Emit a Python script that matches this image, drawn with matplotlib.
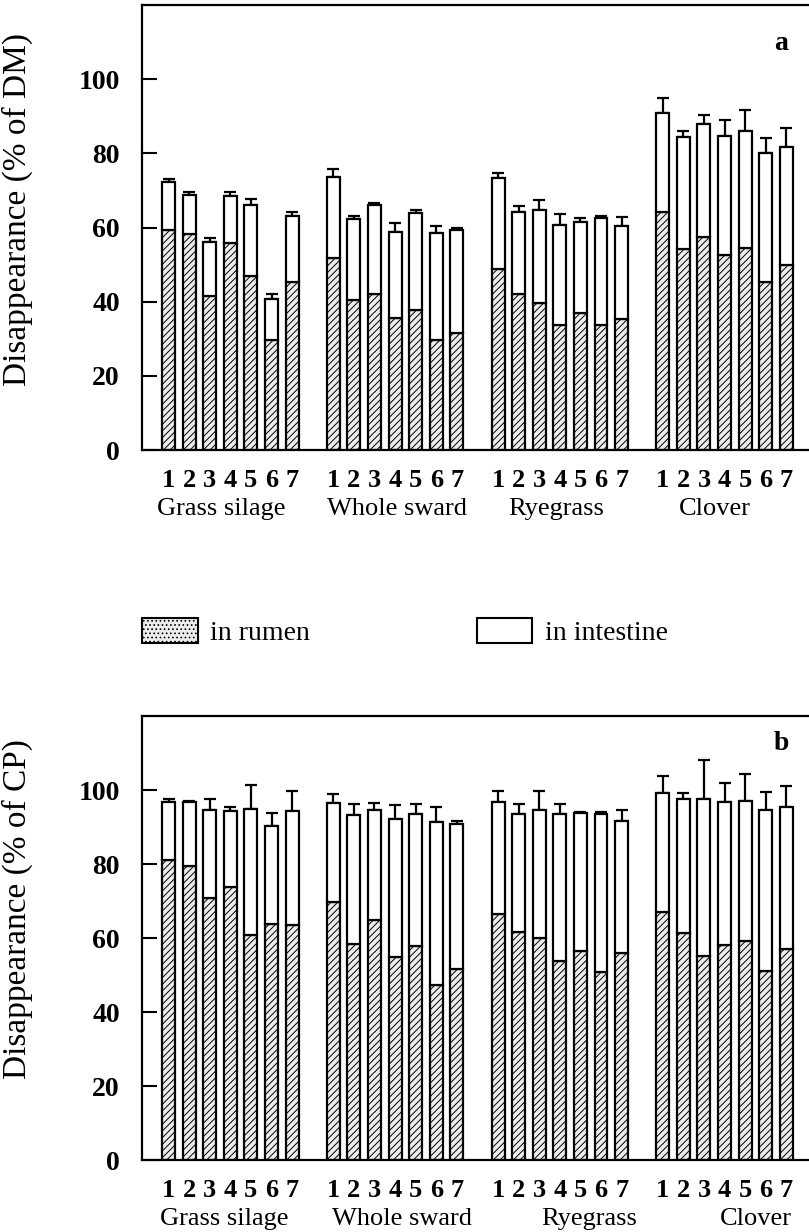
import matplotlib
matplotlib.use('Agg')
import matplotlib.pyplot as plt
import matplotlib.patches as mpatches
import numpy as np

plt.rcParams['font.family'] = ['Liberation Serif', 'DejaVu Serif']
plt.rcParams['hatch.color'] = '0.4'
plt.rcParams['hatch.linewidth'] = 0.7

groups = ['Grass silage', 'Whole sward', 'Ryegrass', 'Clover']
treatments = ['1', '2', '3', '4', '5', '6', '7']

# panel a: dry matter
dm_rumen = [
    [59.3, 58.2, 41.6, 55.8, 47.0, 29.7, 45.2],
    [51.8, 40.5, 42.1, 35.6, 37.8, 29.6, 31.5],
    [48.8, 42.0, 39.7, 33.8, 36.9, 33.6, 35.3],
    [64.1, 54.1, 57.5, 52.5, 54.5, 45.4, 49.8],
]
dm_total = [
    [72.2, 68.8, 56.0, 68.6, 66.0, 40.7, 63.2],
    [73.7, 62.2, 66.1, 58.8, 64.0, 58.4, 59.3],
    [73.4, 64.1, 64.6, 60.7, 61.5, 62.6, 60.4],
    [91.0, 84.4, 87.9, 84.6, 86.1, 80.0, 81.8],
]
dm_err = [
    [0.8, 0.7, 1.3, 0.9, 1.6, 1.3, 1.1],
    [2.0, 1.0, 0.4, 2.3, 0.7, 2.0, 0.7],
    [1.4, 1.8, 2.8, 2.9, 1.0, 0.5, 2.4],
    [4.0, 1.5, 2.5, 4.5, 5.5, 4.1, 5.0],
]

# panel b: crude protein
cp_rumen = [
    [81.0, 79.5, 70.9, 73.9, 60.7, 63.7, 63.5],
    [69.6, 58.3, 65.0, 54.9, 57.8, 47.4, 51.5],
    [66.4, 61.7, 60.1, 53.9, 56.6, 50.9, 56.0],
    [67.0, 61.4, 55.1, 58.2, 59.2, 51.2, 56.9],
]
cp_total = [
    [96.7, 96.7, 94.7, 94.4, 95.0, 90.2, 94.4],
    [96.5, 93.3, 94.7, 92.1, 93.5, 91.4, 90.8],
    [96.7, 93.5, 94.7, 93.5, 93.8, 93.5, 91.7],
    [99.2, 97.7, 97.6, 96.8, 97.1, 94.6, 95.5],
]
cp_err = [
    [0.9, 0.4, 2.9, 0.9, 6.4, 3.6, 5.3],
    [2.4, 2.9, 1.8, 3.8, 2.6, 3.9, 0.8],
    [3.1, 2.7, 4.9, 2.6, 0.3, 0.5, 2.9],
    [4.7, 1.5, 10.6, 5.0, 7.2, 4.8, 5.7],
]

# where the group names sit (x in bar units), as in the original print
name_x_a = [2.55, 11.1, 18.8, 26.55]
name_x_b = [2.7, 11.35, 20.4, 28.5]

RUMEN_FACE = '0.93'
RUMEN_HATCH = '/////'


def draw_panel(ax, rumen, total, err, ylabel, letter, name_x, label_y):
    rumen = np.asarray(rumen)
    total = np.asarray(total)
    err = np.asarray(err)
    ntr = len(treatments)
    pos = np.concatenate([np.arange(ntr) + g * (ntr + 1) for g in range(len(groups))])
    r = rumen.ravel()
    t = total.ravel()
    e = err.ravel()

    ax.errorbar(pos, t, yerr=[np.zeros_like(e), e], fmt='none', ecolor='black',
                elinewidth=1.6, capsize=4.5, capthick=1.6, zorder=1)
    ax.bar(pos, r, width=0.63, color=RUMEN_FACE, edgecolor='black', linewidth=1.6,
           hatch=RUMEN_HATCH, zorder=2)
    ax.bar(pos, t - r, bottom=r, width=0.63, color='white', edgecolor='black',
           linewidth=1.6, zorder=2)

    ax.set_xlim(-1.29, 31.1)
    ax.set_ylim(0, 120)
    ax.set_yticks(np.arange(0, 101, 20))
    ax.set_yticklabels([str(v) for v in range(0, 101, 20)], fontsize=20, fontweight='bold')
    ax.tick_params(axis='y', direction='in', length=11, width=1.5, pad=16)
    ax.set_xticks(pos)
    ax.set_xticklabels(treatments * len(groups), fontsize=19, fontweight='bold')
    ax.tick_params(axis='x', length=0, pad=14)
    for s in ['left', 'top', 'bottom']:
        ax.spines[s].set_linewidth(1.6)
    ax.spines['right'].set_visible(False)
    ax.set_ylabel(ylabel, fontsize=24)
    ax.yaxis.set_label_coords(-0.163, label_y)
    ax.text(0.958, 0.9 if letter == 'a' else 0.923, letter, transform=ax.transAxes,
            fontsize=20, fontweight='bold', ha='center', va='baseline')
    for x, name in zip(name_x, groups):
        ax.text(x, -0.132, name, transform=ax.get_xaxis_transform(),
                fontsize=19, ha='center', va='center')


fig = plt.figure(figsize=(8.09, 12.32), dpi=100)
ax_a = fig.add_axes([142 / 809, (1232 - 450) / 1232, 1 - 142 / 809, 445 / 1232])
ax_b = fig.add_axes([142 / 809, (1232 - 1160) / 1232, 1 - 142 / 809, 444 / 1232])

draw_panel(ax_a, dm_rumen, dm_total, dm_err, 'Disappearance (% of DM)', 'a', name_x_a, 0.54)
draw_panel(ax_b, cp_rumen, cp_total, cp_err, 'Disappearance (% of CP)', 'b', name_x_b, 0.565)

h_rumen = mpatches.Patch(facecolor=RUMEN_FACE, edgecolor='black', hatch='....', linewidth=1.5)
h_int = mpatches.Patch(facecolor='white', edgecolor='black', linewidth=1.5)
fig.legend([h_rumen, h_int], ['in rumen', 'in intestine'], loc='upper left',
           bbox_to_anchor=(142 / 809, 1 - 618 / 1232), ncol=2, frameon=False,
           fontsize=20, handlelength=2.0, handleheight=1.0, handletextpad=0.45,
           columnspacing=6.0, borderpad=0, borderaxespad=0)

fig.savefig('out.png', dpi=100)
